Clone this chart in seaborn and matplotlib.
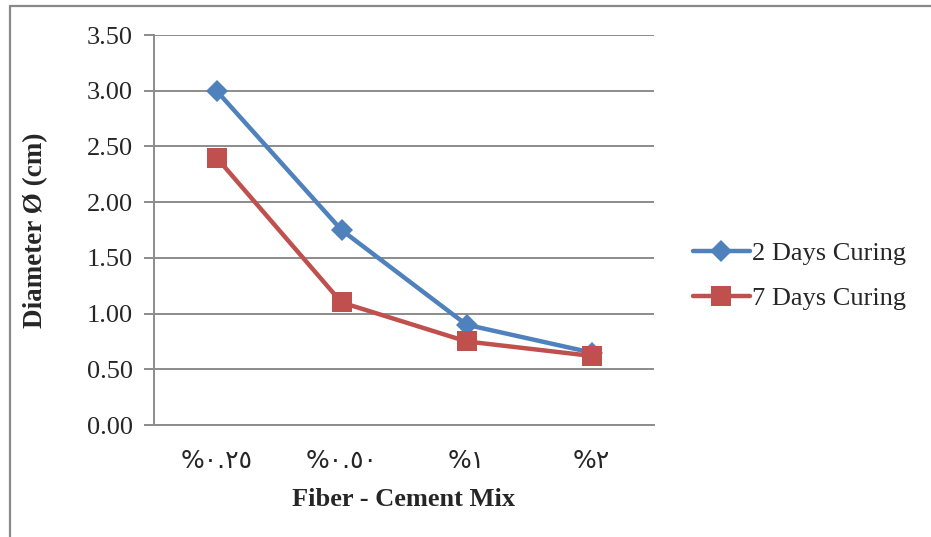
import matplotlib
matplotlib.use("Agg")
import matplotlib.pyplot as plt
from matplotlib.lines import Line2D
import seaborn as sns
import pandas as pd

# Data
mix_labels = ["%٠.٢٥", "%٠.٥٠", "%١", "%٢"]
days2 = [3.00, 1.75, 0.90, 0.65]
days7 = [2.40, 1.10, 0.75, 0.62]
series_names = ["2 Days Curing", "7 Days Curing"]
y_ticks = [0.0, 0.5, 1.0, 1.5, 2.0, 2.5, 3.0, 3.5]

sns.set_theme(style="white")
plt.rcParams["font.family"] = ["Liberation Serif", "DejaVu Sans"]

positions = list(range(len(mix_labels)))
df = pd.DataFrame({
    "pos": positions * 2,
    "value": days2 + days7,
    "series": [series_names[0]] * len(days2) + [series_names[1]] * len(days7),
})

blue = "#4F81BD"
red = "#C0504D"
grid_c = "#8C8C8C"
fs = 19

fig = plt.figure(figsize=(9.31, 5.37), dpi=100)
ax = fig.add_axes([154 / 931, 1 - 425 / 537, 500 / 931, 390 / 537])

sns.lineplot(
    data=df, x="pos", y="value", hue="series", style="series",
    palette={series_names[0]: blue, series_names[1]: red},
    markers={series_names[0]: "D", series_names[1]: "s"},
    dashes=False, linewidth=3.2, ax=ax, legend=False,
)
for line, ms in zip(ax.get_lines(), [11.5, 14]):
    line.set_markersize(ms)
    line.set_markeredgewidth(0)
    line.set_solid_capstyle("round")

ax.set_xlim(-0.5, len(mix_labels) - 0.5)
ax.set_ylim(0, 3.5)
ax.set_yticks(y_ticks)
ax.set_yticklabels([f"{v:.2f}" for v in y_ticks], fontsize=fs)
ax.grid(axis="y", color=grid_c, linewidth=1.4)
ax.set_axisbelow(True)

# category labels at centers, tick marks at category boundaries
ax.set_xticks(positions)
ax.set_xticklabels(mix_labels, fontsize=18, family=["DejaVu Sans"])
ax.set_xticks([p - 0.5 for p in positions] + [len(positions) - 0.5], minor=True)
ax.tick_params(axis="x", which="major", length=0, pad=17)
ax.tick_params(axis="x", which="minor", length=7, width=1.4, color=grid_c, direction="out")
ax.tick_params(axis="y", which="major", length=7, width=1.4, color=grid_c, direction="out", pad=8, left=True)

for side in ["top", "right"]:
    ax.spines[side].set_visible(False)
for side in ["left", "bottom"]:
    ax.spines[side].set_color(grid_c)
    ax.spines[side].set_linewidth(1.4)

ax.set_xlabel("Fiber - Cement Mix", fontsize=fs, fontweight="bold", labelpad=11)
ax.set_ylabel("Diameter Ø (cm)", fontsize=19.5, fontweight="bold", labelpad=28)

handles = [
    Line2D([], [], color=blue, marker="D", markersize=11.5, markeredgewidth=0, linewidth=3.2),
    Line2D([], [], color=red, marker="s", markersize=14, markeredgewidth=0, linewidth=3.2),
]
fig.legend(handles, series_names, loc="center left",
           bbox_to_anchor=(693 / 931, 1 - 276 / 537), frameon=False,
           fontsize=fs, handlelength=2.15, handletextpad=0.08, labelspacing=0.8,
           borderaxespad=0, borderpad=0)

# chart frame
fig.add_artist(Line2D([9.5 / 931, 9.5 / 931], [0, 1 - 6 / 537], transform=fig.transFigure,
                      color="#898989", linewidth=1.6))
fig.add_artist(Line2D([9.5 / 931, 1], [1 - 6 / 537, 1 - 6 / 537], transform=fig.transFigure,
                      color="#898989", linewidth=1.6))

fig.savefig("out.png", dpi=100, facecolor="white")
